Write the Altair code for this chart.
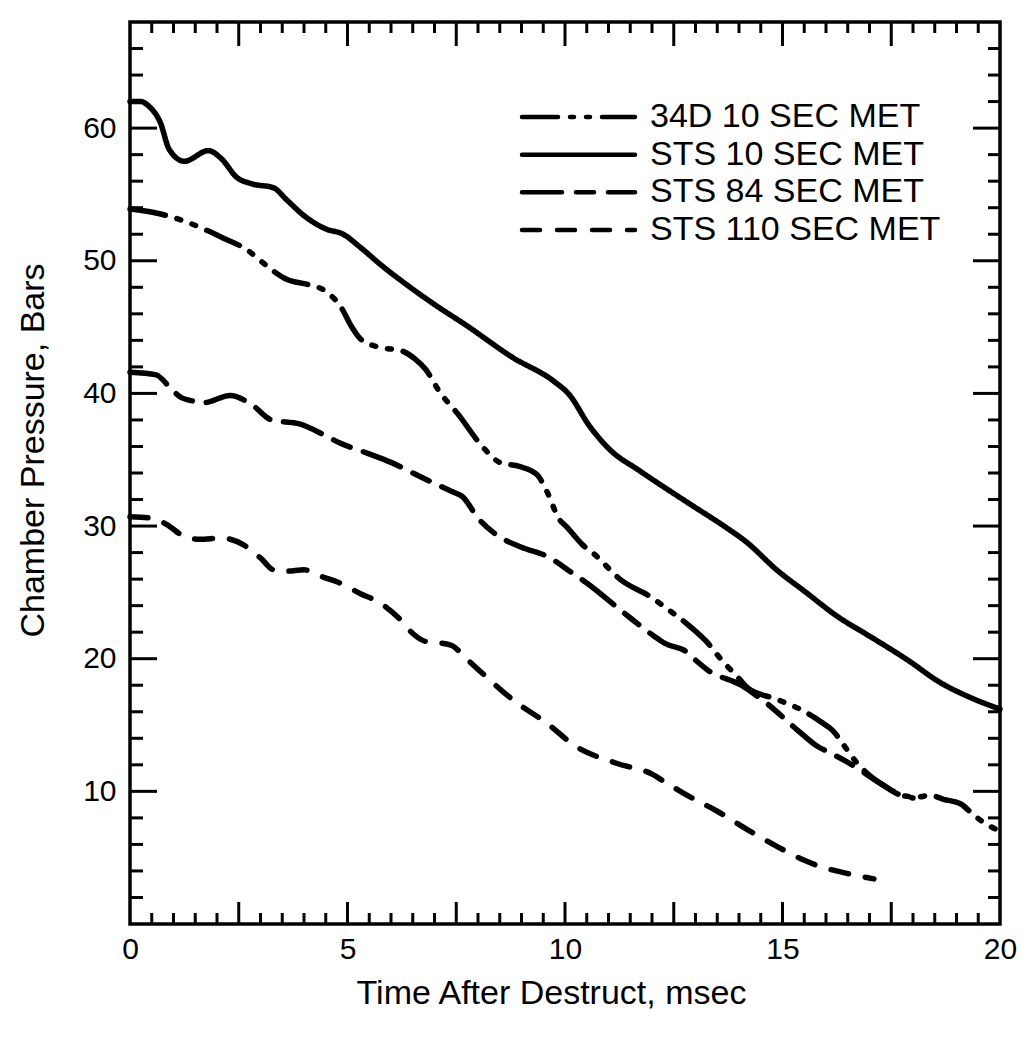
import altair as alt
import pandas as pd

series_order = ["34D 10 SEC MET", "STS 10 SEC MET", "STS 84 SEC MET", "STS 110 SEC MET"]

# STS 10 SEC MET (solid)
sts10_t = [0, 0.25, 0.45, 0.7, 0.9, 1.25, 1.8, 2.1, 2.45, 2.8, 3.3, 3.6, 4.0, 4.5, 4.9, 5.3, 5.8, 6.4,
           7.0, 7.7, 8.8, 9.75, 10.1, 10.55, 11.05, 11.7, 12.9, 13.7, 14.15, 14.9, 15.5, 16.3, 16.9,
           17.3, 17.9, 18.6, 19.3, 20.0]
sts10_p = [62.0, 62.0, 61.6, 60.4, 58.4, 57.5, 58.3, 57.7, 56.3, 55.8, 55.5, 54.6, 53.4, 52.4, 52.0,
           51.0, 49.6, 48.1, 46.7, 45.2, 42.7, 40.9, 39.9, 37.6, 35.7, 34.2, 31.6, 29.9, 28.85, 26.6,
           25.1, 23.1, 21.9, 21.1, 19.85, 18.25, 17.1, 16.2]

# 34D 10 SEC MET (long-short-short dash)
d34_t = [0, 0.6, 1.15, 2.15, 2.7, 3.0, 3.35, 3.6, 4.1, 4.5, 4.85, 5.1, 5.3, 5.7, 6.25, 6.55, 6.8,
         7.1, 7.55, 8.1, 8.5, 8.95, 9.35, 9.6, 9.85, 10.05, 10.4, 10.65, 11.3, 12.0, 12.25, 12.85,
         13.25, 13.55, 14.0, 14.2, 14.85, 15.4, 15.9, 16.15, 16.45, 16.7, 17.0, 17.4, 17.8, 18.1,
         18.4, 18.7, 19.1, 19.4, 19.7, 20.0]
d34_p = [53.9, 53.6, 53.1, 51.7, 50.8, 50.0, 49.1, 48.6, 48.2, 47.7, 46.5, 45.0, 44.1, 43.5, 43.2,
         42.6, 41.8, 40.2, 38.4, 36.0, 34.8, 34.5, 33.9, 32.5, 30.6, 29.9, 28.6, 27.95, 25.9, 24.6,
         24.0, 22.5, 21.3, 20.1, 18.5, 17.8, 16.96, 16.2, 15.2, 14.6, 13.3, 12.2, 11.2, 10.3, 9.65,
         9.57, 9.7, 9.4, 9.05, 8.2, 7.5, 7.0]

# STS 84 SEC MET (long dash)
sts84_t = [0, 0.6, 0.93, 1.17, 1.5, 1.7, 2.3, 2.8, 3.25, 3.9, 4.5, 4.8, 5.45, 6.0, 6.75, 7.4, 7.65,
           8.0, 8.4, 9.0, 9.6, 10.15, 10.5, 11.3, 12.05, 12.3, 12.8, 13.0, 13.3, 14.05, 14.65, 15.35,
           15.8, 16.1, 16.6, 17.2, 17.65, 18.0]
sts84_p = [41.6, 41.4, 40.4, 39.7, 39.4, 39.3, 39.85, 39.15, 38.0, 37.7, 36.8, 36.3, 35.5, 34.8,
           33.6, 32.6, 32.2, 30.6, 29.4, 28.4, 27.7, 26.5, 25.7, 23.6, 21.7, 21.15, 20.5, 19.9, 19.1,
           18.0, 16.6, 14.6, 13.4, 12.9, 12.0, 10.7, 9.8, 9.5]

# STS 110 SEC MET (medium dash)
sts110_t = [0, 0.5, 0.9, 1.2, 1.6, 2.1, 2.6, 3.0, 3.3, 3.6, 4.0, 4.4, 4.9, 5.3, 5.7, 6.2, 6.5, 6.8,
            7.1, 7.4, 7.7, 8.1, 8.8, 9.6, 10.2, 11.2, 12.0, 12.3, 12.7, 13.5, 14.2, 14.9, 15.5, 16.0,
            16.5, 17.1]
sts110_p = [30.7, 30.6, 30.0, 29.3, 29.0, 29.1, 28.6, 27.6, 26.7, 26.6, 26.7, 26.2, 25.6, 24.9,
            24.3, 23.0, 21.9, 21.3, 21.2, 21.0, 20.1, 18.9, 16.9, 15.1, 13.5, 12.1, 11.3, 10.7, 9.9,
            8.5, 7.1, 5.8, 4.8, 4.2, 3.8, 3.4]

x_labels = [0, 5, 10, 15, 20]
y_labels = [10, 20, 30, 40, 50, 60]
x_major_ticks = [2.5, 5, 7.5, 10, 12.5, 15, 17.5]
x_minor_ticks = [0.5, 1, 1.5, 2, 3, 3.5, 4, 4.5, 5.5, 6, 6.5, 7, 8, 8.5, 9, 9.5, 10.5, 11, 11.5, 12,
                 13, 13.5, 14, 14.5, 15.5, 16, 16.5, 17, 18, 18.5, 19, 19.5]
y_major_ticks = [10, 20, 30, 40, 50, 60]
y_minor_ticks = [2, 4, 6, 8, 12, 14, 16, 18, 22, 24, 26, 28, 32, 34, 36, 38, 42, 44, 46, 48, 52,
                 54, 56, 58, 62, 64, 66]

rows = []
for name, ts, ps in [(series_order[0], d34_t, d34_p), (series_order[1], sts10_t, sts10_p),
                     (series_order[2], sts84_t, sts84_p), (series_order[3], sts110_t, sts110_p)]:
    for t, p in zip(ts, ps):
        rows.append({"series": name, "t": t, "p": p})
df = pd.DataFrame(rows)

W, H = 870, 902
FONT = "Liberation Sans"
xs = alt.Scale(domain=[0, 20], nice=False, zero=False)
ys = alt.Scale(domain=[0, 68], nice=False, zero=False)
dash_scale = alt.Scale(domain=series_order,
                       range=[[36, 12, 4, 12, 4, 12], [1, 0], [40, 14, 18, 14], [18, 17]])

x_axis = alt.Axis(values=x_labels, ticks=False, domain=False, grid=False, labelFlush=False,
                  labelFontSize=30, labelPadding=10, format="d",
                  title="Time After Destruct, msec", titleFontSize=34,
                  titleFontWeight="normal", titlePadding=12, titleX=421)
y_axis = alt.Axis(values=y_labels, ticks=False, domain=False, grid=False, labelFlush=False,
                  labelFontSize=30, labelPadding=14, format="d",
                  title="Chamber Pressure, Bars", titleFontSize=34,
                  titleFontWeight="normal", titlePadding=32, titleY=428)

lines = alt.Chart(df).mark_line(color="black", strokeWidth=5.5, interpolate="monotone",
                                strokeCap="round").encode(
    x=alt.X("t:Q", scale=xs, axis=x_axis),
    y=alt.Y("p:Q", scale=ys, axis=y_axis),
    strokeDash=alt.StrokeDash("series:N", scale=dash_scale, legend=None),
    order=alt.Order("t:Q"),
)


def xticks(vals, length, top):
    d = pd.DataFrame({"v": vals})
    if top:
        yy, yy2 = alt.value(0), alt.value(length)
    else:
        yy, yy2 = alt.value(H), alt.value(H - length)
    return alt.Chart(d).mark_rule(color="black", strokeWidth=3).encode(
        x=alt.X("v:Q", scale=xs, axis=x_axis), y=yy, y2=yy2)


def yticks(vals, length, right):
    d = pd.DataFrame({"v": vals})
    if right:
        xx, xx2 = alt.value(W), alt.value(W - length)
    else:
        xx, xx2 = alt.value(0), alt.value(length)
    return alt.Chart(d).mark_rule(color="black", strokeWidth=3).encode(
        y=alt.Y("v:Q", scale=ys, axis=None), x=xx, x2=xx2)


tick_layers = [
    xticks(x_major_ticks, 22, False), xticks(x_minor_ticks, 11, False),
    xticks(x_major_ticks, 24, True), xticks(x_minor_ticks, 11, True),
    yticks(y_major_ticks, 27, False), yticks(y_minor_ticks, 13, False),
    yticks(y_major_ticks, 27, True), yticks(y_minor_ticks, 12, True),
]

leg_df = pd.DataFrame({"series": series_order})
legend_y = alt.Y("series:N", scale=alt.Scale(type="point", domain=series_order, range=[95, 208],
                                             padding=0), axis=None)
leg_lines = alt.Chart(leg_df).mark_rule(color="black", strokeWidth=4.5, strokeCap="round").encode(
    y=legend_y, x=alt.value(392), x2=alt.value(505),
    strokeDash=alt.StrokeDash("series:N", scale=dash_scale, legend=None),
)
leg_text = alt.Chart(leg_df).mark_text(align="left", baseline="middle", fontSize=34, font=FONT,
                                       color="black").encode(
    y=legend_y, x=alt.value(520), text="series:N")

chart = alt.layer(lines, *tick_layers, leg_lines, leg_text).resolve_scale(
    y="independent"
).properties(
    width=W, height=H,
    padding={"left": 130, "top": 22, "right": 27, "bottom": 138},
    autosize=alt.AutoSizeParams(type="none"),
    background="white",
).configure_view(
    stroke="black", strokeWidth=3.5
).configure_axis(
    labelFont=FONT, titleFont=FONT, labelColor="black", titleColor="black"
)

chart.save("out.html", embed_options={"renderer": "svg", "actions": False})
